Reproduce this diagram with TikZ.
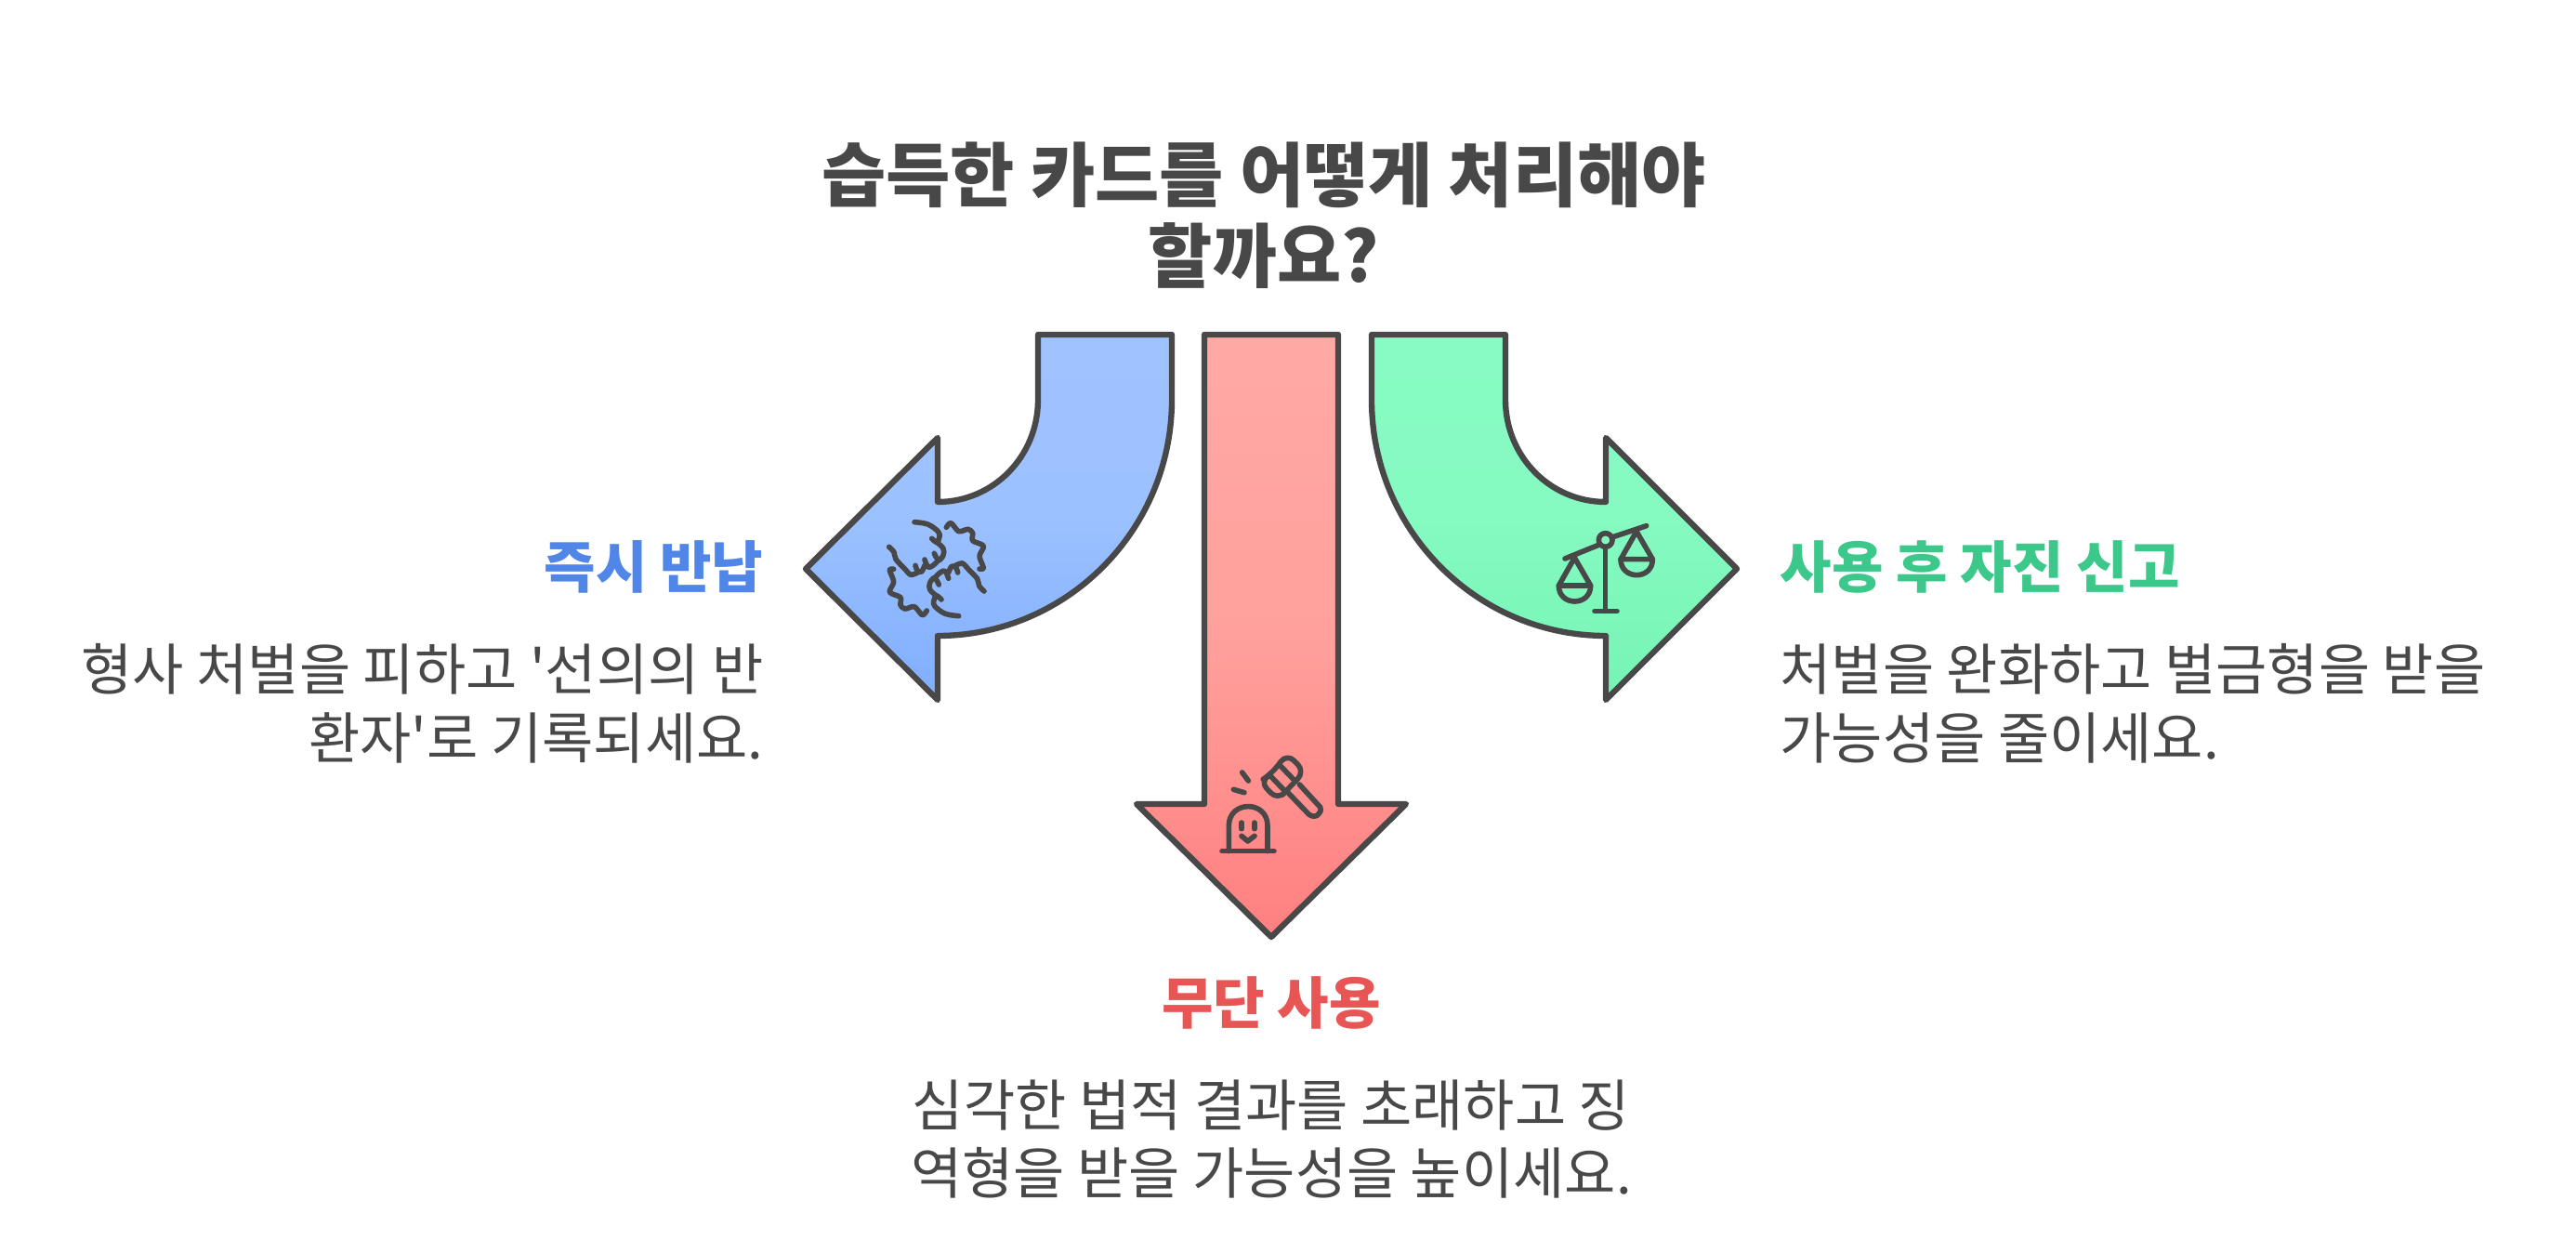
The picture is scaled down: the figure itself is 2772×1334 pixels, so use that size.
\documentclass[tikz,border=0pt]{standalone}
\usepackage{fontspec}
\newfontfamily\krfont{Noto Sans CJK KR}
\usepackage{tikz}
\usetikzlibrary{positioning}

\definecolor{ink}{HTML}{484848}
\definecolor{bluehead}{HTML}{4F86E8}
\definecolor{redhead}{HTML}{E85555}
\definecolor{greenhead}{HTML}{3CC88A}

\tikzset{
  title/.style = {font = \krfont\bfseries\fontsize{21.4}{24.6}\selectfont, text = ink, align = center, inner sep = 0},
  head/.style = {font = \krfont\bfseries\fontsize{17.15}{20}\selectfont, inner sep = 0},
  body/.style = {font = \krfont\fontsize{17.08}{20.8}\selectfont, text = ink, inner sep = 0},
  arrowshape/.style = {draw = ink, line width = 1.8pt, line join = round},
  iconline/.style = {draw = ink, line width = 1.6pt, line cap = round, line join = round},
}

\begin{document}
\begin{tikzpicture}[x = 0.01cm, y = -0.01cm]
    \useasboundingbox (0,0) rectangle (2772,1334);

    \node[title] (question) at (1360,232) {습득한 카드를 어떻게 처리해야\\할까요?};

    \path[arrowshape, top color = {rgb,255:red,158;green,195;blue,255}, bottom color = {rgb,255:red,127;green,174;blue,255}, middle color = {rgb,255:red,156;green,193;blue,255}]
      (1117,360) -- (1261,360) -- (1261,430) .. controls (1261,570) and (1148,684) .. (1009,684)
      -- (1009,753) -- (867,612) -- (1009,471) -- (1009,540)
      .. controls (1069,540) and (1117,491) .. (1117,430) -- cycle;
    \path[arrowshape, top color = {rgb,255:red,255;green,169;blue,165}, bottom color = {rgb,255:red,255;green,128;blue,128}, middle color = {rgb,255:red,255;green,160;blue,156}]
      (1296,360) -- (1440,360) -- (1440,865) -- (1513,865) -- (1368,1008) -- (1223,865) -- (1296,865) -- cycle;
    \path[arrowshape, top color = {rgb,255:red,135;green,251;blue,195}, bottom color = {rgb,255:red,118;green,244;blue,180}, middle color = {rgb,255:red,133;green,250;blue,193}]
      (1620,360) -- (1476,360) -- (1476,430) .. controls (1476,570) and (1589,684) .. (1728,684)
      -- (1728,753) -- (1869,612) -- (1728,471) -- (1728,540)
      .. controls (1668,540) and (1620,491) .. (1620,430) -- cycle;

    % handshake
    \begin{scope}[shift = {(930,540)}, scale = 1/3]
      \foreach \turn in {0,180} {
        \begin{scope}[rotate around = {\turn:(233.5,216.5)}]
          \draw[iconline] plot[smooth, tension = 0.6] coordinates {(162,65) (205,72) (238,95) (243,112) (234,130) (218,118)};
          \draw[iconline] plot[smooth, tension = 0.6] coordinates {(234,130) (255,150) (255,172) (240,188) (226,166)};
          \draw[iconline] plot[smooth, tension = 0.6] coordinates {(240,188) (222,205) (206,210) (195,186)};
          \draw[iconline] plot[smooth, tension = 0.6] coordinates {(195,205) (185,225) (172,222) (165,205)};
          \draw[iconline] plot[smooth, tension = 0.5] coordinates {(80,145) (96,162) (102,185) (130,215) (150,235) (172,228)};
          \draw[iconline] plot[smooth, tension = 0.5] coordinates {(265,82) (280,68) (305,95) (335,88) (350,100) (350,125) (385,142) (372,175) (385,213) (372,216)};
        \end{scope}
      }
    \end{scope}

    % gavel
    \begin{scope}[shift = {(1290,790)}, scale = 1/3]
      \draw[iconline] (97,377) -- (97,295) .. controls (97,212) and (222,212) .. (222,295) -- (222,377);
      \draw[iconline] (75,377) -- (243,377);
      \draw[iconline] (138,285) -- (138,305);
      \draw[iconline] (180,285) -- (180,305);
      \draw[iconline] (138,328) -- (158,345) -- (180,328);
      \draw[iconline] (140,123) -- (160,150);
      \draw[iconline] (112,178) -- (147,188);
      \draw[iconline, rounded corners = 3pt] (197,152) -- (234,128) -- (285,62) -- (342,120) -- (292,172) -- (255,212) -- cycle;
      \draw[iconline] (232,135) -- (280,185);
      \draw[iconline] (262,100) -- (310,150);
      \draw[iconline] (325,162) -- (392,235) .. controls (400,255) and (375,275) .. (355,258) -- (285,185);
    \end{scope}

    % scales
    \begin{scope}[shift = {(1660,550)}, scale = 1/3]
      \draw[iconline] (72,153) -- (183,108);
      \draw[iconline] (224,84) -- (335,47);
      \draw[iconline] (203,93) circle [radius = 22];
      \draw[iconline] (203,115) -- (203,322);
      \draw[iconline] (168,322) -- (240,322);
      \foreach \dx/\dy in {0/0,200/-85} {
        \begin{scope}[shift = {(\dx,\dy)}]
          \draw[iconline] (52,240) -- (103,150) -- (155,240);
          \draw[iconline] (52,240) -- (155,240) .. controls (155,308) and (52,308) .. (52,240);
        \end{scope}
      }
    \end{scope}

    \node[head, text = bluehead, anchor = east] (giveback) at (822,610) {즉시 반납};
    \node[body, align = right, below = 0.53cm of giveback.south east, anchor = north east] (givebacktext) {형사 처벌을 피하고 '선의의 반\\환자'로 기록되세요.};

    \node[head, text = greenhead, anchor = west] (report) at (1915,610) {사용 후 자진 신고};
    \node[body, align = left, below = 0.53cm of report.south west, anchor = north west] (reporttext) {처벌을 완화하고 벌금형을 받을\\가능성을 줄이세요.};

    \node[head, text = redhead] (misuse) at (1368,1079) {무단 사용};
    \node[body, align = center, below = 0.53cm of misuse] (misusetext) {심각한 법적 결과를 초래하고 징\\역형을 받을 가능성을 높이세요.};
\end{tikzpicture}
\end{document}
